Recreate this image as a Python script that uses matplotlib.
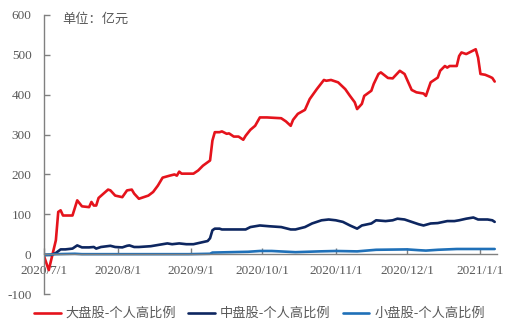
import matplotlib
matplotlib.use("Agg")
import matplotlib.pyplot as plt
import pandas as pd

# 大盘股-个人高比例
large_dates = [
    "2020-07-01", "2020-07-03", "2020-07-06", "2020-07-07", "2020-07-08", "2020-07-09",
    "2020-07-13", "2020-07-15", "2020-07-17", "2020-07-20", "2020-07-21", "2020-07-22",
    "2020-07-23", "2020-07-24", "2020-07-28", "2020-07-29", "2020-07-31", "2020-08-03",
    "2020-08-05", "2020-08-07", "2020-08-08", "2020-08-10", "2020-08-14", "2020-08-16",
    "2020-08-18", "2020-08-20", "2020-08-23", "2020-08-25", "2020-08-26", "2020-08-27",
    "2020-08-28", "2020-09-02", "2020-09-04", "2020-09-06", "2020-09-09", "2020-09-10",
    "2020-09-11", "2020-09-13", "2020-09-14", "2020-09-16", "2020-09-17", "2020-09-19",
    "2020-09-21", "2020-09-23", "2020-09-24", "2020-09-26", "2020-09-28", "2020-09-30",
    "2020-10-03", "2020-10-09", "2020-10-11", "2020-10-13", "2020-10-14", "2020-10-16",
    "2020-10-19", "2020-10-21", "2020-10-24", "2020-10-27", "2020-10-28", "2020-10-30",
    "2020-11-02", "2020-11-05", "2020-11-07", "2020-11-09", "2020-11-10", "2020-11-12",
    "2020-11-13", "2020-11-16", "2020-11-17", "2020-11-19", "2020-11-20", "2020-11-23",
    "2020-11-25", "2020-11-28", "2020-11-30", "2020-12-03", "2020-12-05", "2020-12-08",
    "2020-12-09", "2020-12-11", "2020-12-14", "2020-12-15", "2020-12-17", "2020-12-18",
    "2020-12-19", "2020-12-22", "2020-12-23", "2020-12-24", "2020-12-26", "2020-12-28",
    "2020-12-30", "2020-12-31", "2021-01-01", "2021-01-03", "2021-01-05", "2021-01-06",
    "2021-01-07",
]
large_values = [
    -5, -40, 35, 106, 110, 97,
    97, 135, 120, 118, 131, 122,
    122, 141, 162, 160, 147, 143,
    160, 162, 152, 139, 147, 156,
    172, 192, 197, 200, 197, 207,
    202, 202, 210, 222, 235, 285,
    306, 306, 308, 302, 303, 295,
    295, 287, 297, 312, 322, 343,
    343, 341, 333, 322, 337, 352,
    362, 389, 414, 437, 435, 437,
    431, 414, 397, 381, 364, 377,
    397, 410, 427, 452, 456, 442,
    441, 460, 452, 412, 406, 403,
    397, 431, 443, 460, 472, 468,
    472, 472, 497, 506, 502, 508,
    514, 493, 452, 450, 445, 442,
    433,
]

# 中盘股-个人高比例
mid_dates = [
    "2020-07-01", "2020-07-04", "2020-07-06", "2020-07-08", "2020-07-10", "2020-07-13",
    "2020-07-15", "2020-07-17", "2020-07-20", "2020-07-22", "2020-07-23", "2020-07-25",
    "2020-07-29", "2020-07-31", "2020-08-03", "2020-08-05", "2020-08-06", "2020-08-08",
    "2020-08-10", "2020-08-15", "2020-08-19", "2020-08-22", "2020-08-24", "2020-08-27",
    "2020-08-30", "2020-09-02", "2020-09-05", "2020-09-08", "2020-09-09", "2020-09-10",
    "2020-09-11", "2020-09-13", "2020-09-14", "2020-09-18", "2020-09-24", "2020-09-26",
    "2020-09-30", "2020-10-04", "2020-10-09", "2020-10-13", "2020-10-15", "2020-10-19",
    "2020-10-22", "2020-10-26", "2020-10-29", "2020-11-01", "2020-11-04", "2020-11-07",
    "2020-11-10", "2020-11-12", "2020-11-16", "2020-11-18", "2020-11-22", "2020-11-25",
    "2020-11-27", "2020-11-30", "2020-12-03", "2020-12-06", "2020-12-08", "2020-12-11",
    "2020-12-14", "2020-12-18", "2020-12-21", "2020-12-23", "2020-12-26", "2020-12-29",
    "2020-12-31", "2021-01-04", "2021-01-06", "2021-01-07",
]
mid_values = [
    -2, -2, 3, 12, 12, 14,
    22, 17, 17, 18, 14, 18,
    21, 18, 17, 21, 22, 18,
    18, 20, 24, 27, 25, 27,
    25, 25, 29, 33, 40, 60,
    64, 64, 62, 62, 62, 68,
    72, 70, 68, 62, 62, 68,
    77, 85, 87, 85, 81, 72,
    64, 72, 77, 85, 83, 85,
    89, 87, 81, 75, 72, 77,
    78, 83, 83, 85, 89, 92,
    87, 87, 85, 81,
]

# 小盘股-个人高比例
small_dates = [
    "2020-07-01", "2020-07-06", "2020-07-14", "2020-07-17", "2020-08-31", "2020-09-09",
    "2020-09-10", "2020-09-25", "2020-09-30", "2020-10-05", "2020-10-15", "2020-10-25",
    "2020-11-01", "2020-11-10", "2020-11-18", "2020-12-01", "2020-12-06", "2020-12-09",
    "2020-12-14", "2020-12-22", "2021-01-07",
]
small_values = [
    -2, 0, 1, 0, 0, 1,
    4, 6, 8, 8, 5, 7,
    8, 7, 11, 12, 10, 9,
    11, 13, 13,
]

series_names = ["大盘股-个人高比例", "中盘股-个人高比例", "小盘股-个人高比例"]
tick_dates = ["2020-07-01", "2020-08-01", "2020-09-01", "2020-10-01",
              "2020-11-01", "2020-12-01", "2021-01-01"]
tick_labels = ["2020/7/1", "2020/8/1", "2020/9/1", "2020/10/1",
               "2020/11/1", "2020/12/1", "2021/1/1"]
y_ticks = [-100, 0, 100, 200, 300, 400, 500, 600]
unit_text = "单位：亿元"

colors = ["#E5131C", "#0D2660", "#1F70B8"]
text_gray = "#595959"
spine_gray = "#808080"

plt.rcParams["font.family"] = ["Liberation Serif", "Noto Sans CJK SC", "DejaVu Sans"]

fig = plt.figure(figsize=(5.16, 3.33), dpi=100)
ax = fig.add_axes([0.0853, 0.117, 0.878, 0.838])

series = [
    (large_dates, large_values),
    (mid_dates, mid_values),
    (small_dates, small_values),
]
for (d, v), name, c in zip(series, series_names, colors):
    ax.plot(pd.to_datetime(d), v, color=c, lw=1.9, label=name,
            solid_joinstyle="round", solid_capstyle="round")

ax.set_xlim(pd.Timestamp("2020-07-01"), pd.Timestamp("2021-01-08"))
ax.set_ylim(-100, 600)
ax.set_yticks(y_ticks)
ax.set_yticklabels([str(t) for t in y_ticks])
ax.set_xticks(pd.to_datetime(tick_dates))
ax.set_xticklabels(tick_labels)

for s in ["top", "right"]:
    ax.spines[s].set_visible(False)
ax.spines["bottom"].set_position(("data", 0))
ax.spines["left"].set_color(spine_gray)
ax.spines["bottom"].set_color(spine_gray)
ax.spines["left"].set_linewidth(1.0)
ax.spines["bottom"].set_linewidth(1.0)

ax.tick_params(axis="y", direction="in", length=4, width=1.0, color=spine_gray,
               labelcolor=text_gray, labelsize=9.5, pad=9)
ax.tick_params(axis="x", direction="in", length=4, width=1.0, color=spine_gray,
               labelcolor=text_gray, labelsize=9.5, pad=8)

ax.text(0.04, 0.985, unit_text, transform=ax.transAxes, ha="left", va="center",
        fontsize=9.5, color=text_gray, family=["Noto Sans CJK SC"])

leg = fig.legend(loc="center", bbox_to_anchor=(0.503, 0.058), ncol=3, frameon=False,
                 prop={"family": ["Noto Sans CJK SC"], "size": 9.5},
                 handlelength=2.0, handletextpad=0.4, columnspacing=0.9)
for t in leg.get_texts():
    t.set_color(text_gray)

fig.savefig("out.png", dpi=100)
